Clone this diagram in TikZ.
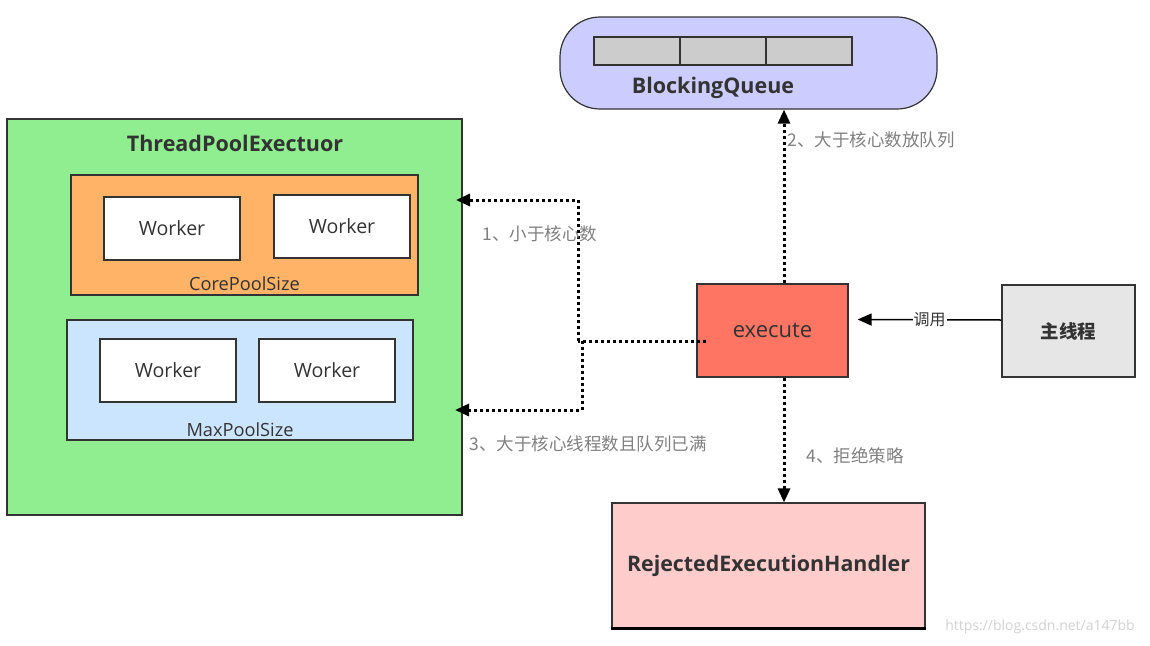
\documentclass[tikz,border=0pt]{standalone}
\usepackage{fontspec}
\setmainfont{Open Sans}
\newfontfamily\cjk{Noto Sans CJK SC}
\usetikzlibrary{positioning,arrows.meta}

\definecolor{poolgreen}{HTML}{90EE90}
\definecolor{coreorange}{HTML}{FFB366}
\definecolor{maxblue}{HTML}{CCE5FF}
\definecolor{queueblue}{HTML}{CCCCFF}
\definecolor{cellgray}{HTML}{CCCCCC}
\definecolor{exered}{HTML}{FF7563}
\definecolor{maingray}{HTML}{E6E6E6}
\definecolor{rejpink}{HTML}{FFCCCC}
\definecolor{inktext}{HTML}{333333}

\begin{document}
\begin{tikzpicture}[x=1pt, y=-1pt, >={Stealth[length=14pt, width=12pt, inset=0pt]},
    box/.style={draw=black!80, line width=1.2pt, inner sep=0pt, text=inktext},
    worker/.style={box, fill=white, minimum width=136pt, minimum height=63pt, font=\fontsize{19.6}{22}\selectfont},
    title/.style={text=inktext, font=\fontsize{21.5}{24}\selectfont\bfseries},
    sub/.style={text=inktext, font=\fontsize{18.2}{21}\selectfont},
    flow/.style={line width=3pt, dash pattern=on 3pt off 3pt},
    note/.style={text=black!50, font=\cjk\fontsize{17.5}{20}\selectfont}]
    \useasboundingbox (0,0) rectangle (1150,645);

    % thread pool with its two worker groups
    \node [box, fill=poolgreen, minimum width=455pt, minimum height=396pt] (tpe) at (234.5,317) {};
    \node [title] (tpetitle) at (235,143) {ThreadPoolExectuor};
    \node [box, fill=coreorange, minimum width=347pt, minimum height=120pt] (core) at (244.5,235) {};
    \node [box, fill=maxblue, minimum width=346pt, minimum height=120pt] (max) at (240,380) {};
    \foreach \n/\x/\y in {1/172/228.5, 2/342/226.5, 3/168/370.5, 4/327/370.5}
      \node [worker] (worker-\n) at (\x,\y) {Worker};
    \node [sub] (corelbl) at ([yshift=12pt]core.south) {CorePoolSize};
    \node [sub] (maxlbl) at ([yshift=11pt]max.south) {MaxPoolSize};

    % queue
    \node [box, fill=queueblue, rounded corners=40pt, minimum width=377pt, minimum height=92pt] (bq) at (748.5,63) {};
    \foreach \i in {0,1,2}
      \node [box, fill=cellgray, minimum width=86pt, minimum height=28pt] (cell-\i) at (637+86*\i,51) {};
    \node [title] (bqlbl) at (713,88) {BlockingQueue};

    % callers and handlers
    \node [box, fill=exered, minimum width=151pt, minimum height=93pt, font=\fontsize{22}{24}\selectfont] (exe) at (772.5,330.5) {execute};
    \node [box, fill=maingray, minimum width=133pt, minimum height=92pt, font=\cjk\fontsize{18.5}{22}\selectfont\bfseries] (main) at (1068.5,331) {主线程};
    \node [box, fill=rejpink, minimum width=313pt, minimum height=125pt, font=\fontsize{21.4}{24}\selectfont\bfseries] (rej) at (768.5,565.5) {RejectedExecutionHandler};
    \draw [line width=2.5pt] (rej.south west) -- (rej.south east);

    % connectors
    \coordinate (up) at ([xshift=11.5pt]exe.north);
    \coordinate (dn) at ([xshift=11.5pt]exe.south);
    \coordinate (lt) at ([yshift=-10.5pt]exe.west);
    \coordinate (j1) at (578,341);
    \coordinate (j3) at (582,341);
    \coordinate (in1) at (456,200);
    \coordinate (in3) at (455,410);
    \draw [flow,->] (up) -- (up |- bq.south);
    \draw [flow,->] (dn) -- (dn |- rej.north);
    \draw [flow] ([xshift=10pt]lt) -- (j1);
    \draw [flow,->] (j1) |- (in1);
    \draw [flow,->] (j3) |- (in3);
    \draw [->, line width=1.5pt] ([yshift=11pt]main.west) -- node [fill=white, inner sep=1pt, text=inktext, font=\cjk\fontsize{16}{18}\selectfont] (calllbl) {调用} ([xshift=9pt,yshift=11pt]exe.east);

    % step labels
    \node [note] (step1) at (540,234) {1、小于核心数};
    \node [note] (step2) at (871,140) {2、大于核心数放队列};
    \node [note] (step3) at (588,444) {3、大于核心线程数且队列已满};
    \node [note] (step4) at (855,456) {4、拒绝策略};
    \node [text=black!18, font=\fontsize{14}{16}\selectfont] (mark) at (1040,627) {https://blog.csdn.net/a147bb};
\end{tikzpicture}
\end{document}
